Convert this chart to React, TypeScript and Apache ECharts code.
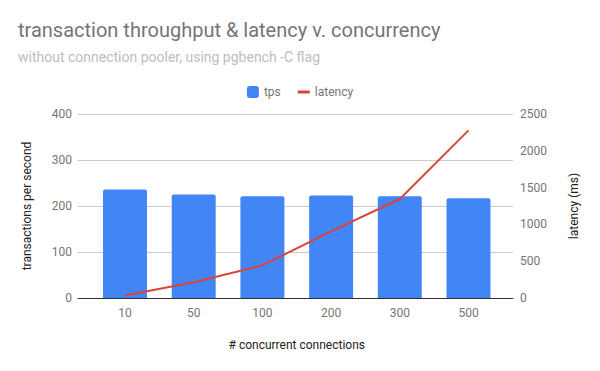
import React, { useEffect, useRef } from "react";
import * as echarts from "echarts";

const categories = ["10", "50", "100", "200", "300", "500"];
const tps = [236, 225, 221, 223, 221, 217];
const latency = [35, 215, 443, 905, 1345, 2277];

const FONT = "Roboto";
const LINE_ICON =
  "path://M0,0 L0.01,0 Z M0,4.5 L12,4.5 L12,7.5 L0,7.5 Z M0,12 L0.01,12 Z";

export default function App() {
  const ref = useRef<HTMLDivElement>(null);
  useEffect(() => {
    if (!ref.current) return;
    const chart = echarts.init(ref.current, undefined, { renderer: "svg" });
    chart.setOption({
      animation: false,
      backgroundColor: "#ffffff",
      textStyle: { fontFamily: FONT },
      title: {
        text: "transaction throughput & latency v. concurrency",
        subtext: "without connection pooler, using pgbench -C flag",
        left: 18,
        top: 20,
        itemGap: 10,
        padding: 0,
        textStyle: { fontFamily: FONT, fontSize: 20, fontWeight: "normal", color: "#757575" },
        subtextStyle: { fontFamily: FONT, fontSize: 14, color: "#bdbdbd" },
      },
      legend: {
        top: 81,
        left: "center",
        itemWidth: 12,
        itemHeight: 12,
        itemGap: 17,
        textStyle: { fontFamily: FONT, fontSize: 12, color: "#757575" },
        data: [
          { name: "tps", icon: "roundRect" },
          { name: "latency", icon: LINE_ICON },
        ],
      },
      grid: [
        { left: 78, right: 87, top: 114, bottom: 73 },
        { left: 90.65, right: 97.15, top: 114, bottom: 73 },
      ],
      xAxis: [
        {
          type: "value",
          gridIndex: 0,
          min: 0,
          max: 1,
          z: 10,
          axisLine: { show: true, lineStyle: { color: "#333333", width: 1 } },
          axisTick: { show: false },
          axisLabel: { show: false },
          splitLine: { show: false },
        },
        {
          type: "category",
          gridIndex: 1,
          data: categories,
          axisLine: { show: false },
          axisTick: { show: false },
          axisLabel: { color: "#757575", fontSize: 12, fontFamily: FONT, margin: 9 },
          name: "# concurrent connections",
          nameLocation: "middle",
          nameGap: 41,
          nameTextStyle: { color: "#222222", fontSize: 12, fontFamily: FONT },
        },
      ],
      yAxis: [
        {
          type: "value",
          gridIndex: 0,
          min: 0,
          max: 400,
          interval: 100,
          axisLine: { show: false },
          axisTick: { show: false },
          axisLabel: { color: "#757575", fontSize: 12, fontFamily: FONT, margin: 6 },
          splitLine: { lineStyle: { color: "#cccccc", width: 1 } },
          name: "transactions per second",
          nameLocation: "middle",
          nameGap: 45,
          nameTextStyle: { color: "#222222", fontSize: 12, fontFamily: FONT },
        },
        {
          type: "value",
          gridIndex: 0,
          position: "right",
          min: 0,
          max: 2500,
          interval: 500,
          axisLine: { show: false },
          axisTick: { show: false },
          axisLabel: {
            color: "#757575",
            fontSize: 12,
            fontFamily: FONT,
            margin: 7,
            formatter: (v: number) => String(v),
          },
          splitLine: { show: false },
          name: "latency (ms)",
          nameLocation: "middle",
          nameGap: 55,
          nameTextStyle: { color: "#222222", fontSize: 12, fontFamily: FONT },
        },
        { type: "value", gridIndex: 1, min: 0, max: 400, show: false },
        { type: "value", gridIndex: 1, min: 0, max: 2500, show: false, position: "right" },
      ],
      series: [
        {
          name: "tps",
          type: "bar",
          xAxisIndex: 1,
          yAxisIndex: 2,
          data: tps,
          barWidth: "64%",
          itemStyle: { color: "#4285f4", borderRadius: [2, 2, 0, 0] },
        },
        {
          name: "latency",
          type: "line",
          xAxisIndex: 1,
          yAxisIndex: 3,
          data: latency,
          symbol: "none",
          showSymbol: false,
          lineStyle: { color: "#db4437", width: 2 },
          itemStyle: { color: "#db4437" },
        },
      ],
    });
    return () => chart.dispose();
  }, []);
  return <div ref={ref} style={{ width: 600, height: 371, margin: -8 }} />;
}
